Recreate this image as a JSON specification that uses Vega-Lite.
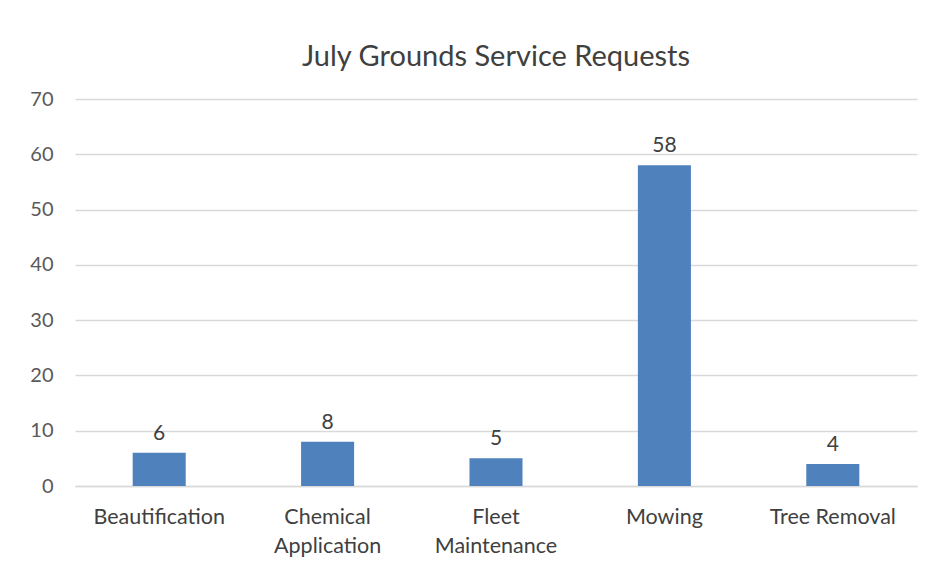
{
  "$schema": "https://vega.github.io/schema/vega-lite/v6.json",
  "width": 842,
  "height": 387,
  "autosize": {"type": "none"},
  "padding": {"left": 75, "top": 99, "right": 13, "bottom": 88},
  "background": "white",
  "title": {
    "text": "July Grounds Service Requests",
    "font": "Lato",
    "fontSize": 29,
    "fontWeight": "normal",
    "color": "#404040",
    "anchor": "middle",
    "offset": 17
  },
  "data": {
    "values": [
      {"category": "Beautification", "requests": 6},
      {"category": "Chemical Application", "requests": 8},
      {"category": "Fleet Maintenance", "requests": 5},
      {"category": "Mowing", "requests": 58},
      {"category": "Tree Removal", "requests": 4}
    ]
  },
  "config": {
    "view": {"stroke": null},
    "font": "Lato"
  },
  "encoding": {
    "x": {
      "field": "category",
      "type": "nominal",
      "sort": null,
      "scale": {"paddingInner": 0.685, "paddingOuter": 0.3425},
      "axis": {
        "title": null,
        "labelAngle": 0,
        "labelFont": "Lato",
        "labelFontSize": 21.5,
        "labelColor": "#404040",
        "labelPadding": 20,
        "labelLineHeight": 29,
        "labelExpr": "datum.label == 'Chemical Application' ? ['Chemical', 'Application'] : datum.label == 'Fleet Maintenance' ? ['Fleet', 'Maintenance'] : datum.label",
        "ticks": false,
        "domain": true,
        "domainColor": "#d9d9d9",
        "domainWidth": 1.5,
        "grid": false
      }
    },
    "y": {
      "field": "requests",
      "type": "quantitative",
      "scale": {"domain": [0, 70], "nice": false},
      "axis": {
        "title": null,
        "values": [0, 10, 20, 30, 40, 50, 60, 70],
        "labelFont": "Lato",
        "labelFontSize": 20,
        "labelColor": "#595959",
        "labelPadding": 22,
        "ticks": false,
        "domain": false,
        "grid": true,
        "gridColor": "#d9d9d9",
        "gridWidth": 1.5
      }
    }
  },
  "layer": [
    {
      "mark": {"type": "bar", "color": "#4F81BD"}
    },
    {
      "mark": {
        "type": "text",
        "baseline": "bottom",
        "dy": -9,
        "font": "Lato",
        "fontSize": 21,
        "color": "#404040"
      },
      "encoding": {
        "text": {"field": "requests", "type": "quantitative"}
      }
    }
  ]
}
